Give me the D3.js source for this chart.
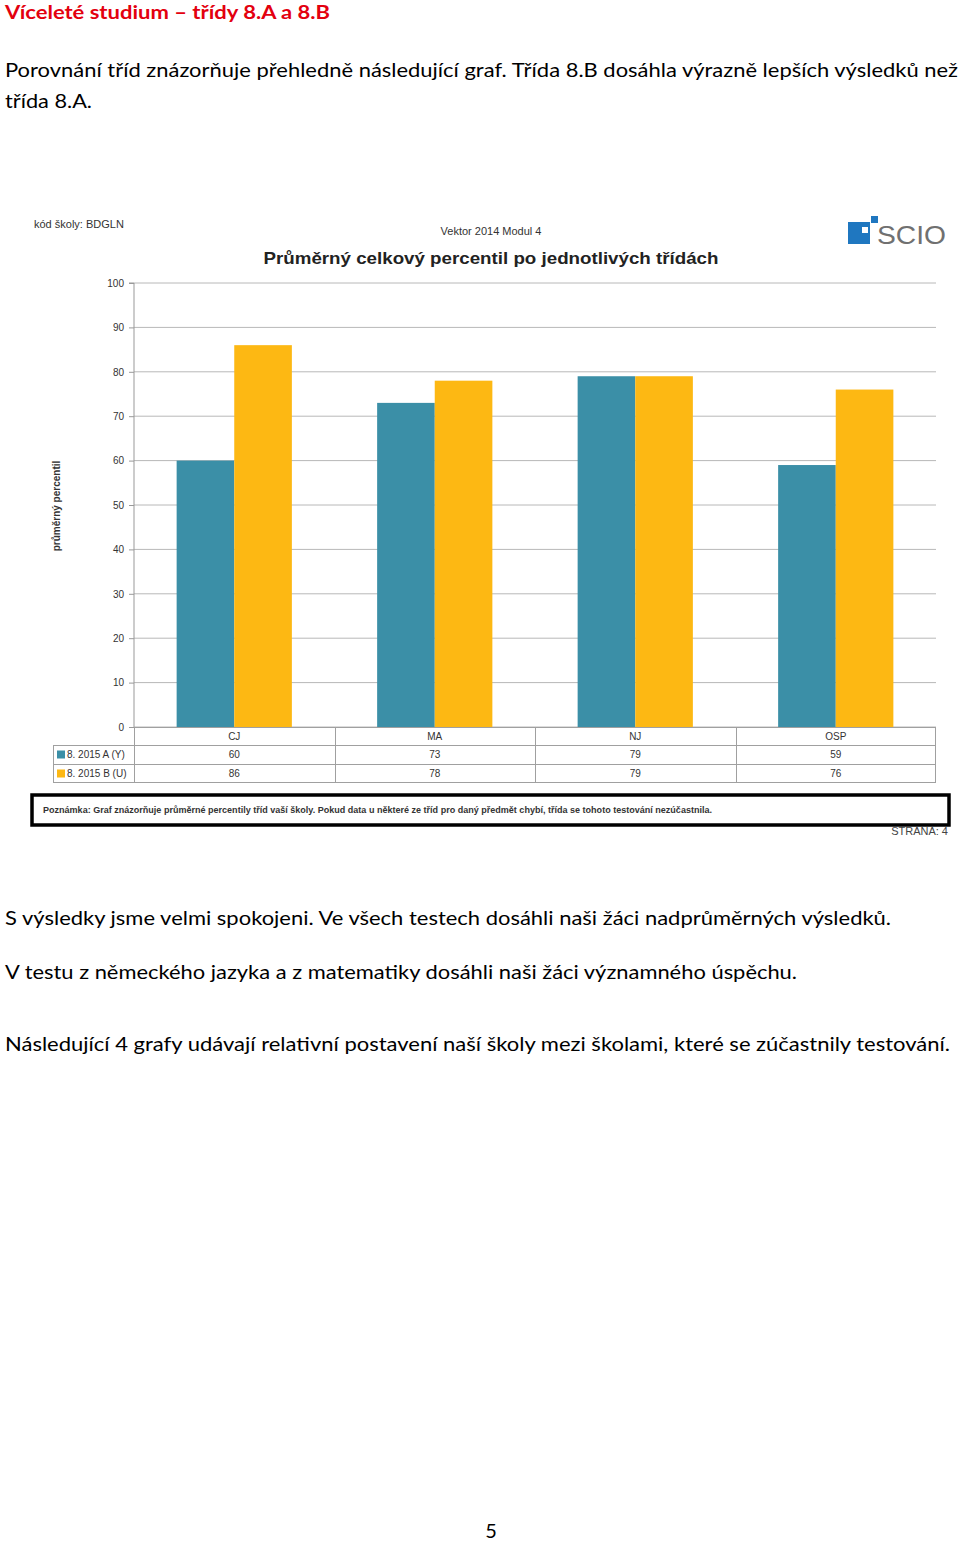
<!DOCTYPE html>
<html><head><meta charset="utf-8">
<script src="https://cdn.jsdelivr.net/npm/d3@7"></script>
<style>body{margin:0;background:#fff}svg{display:block}</style>
</head><body>
<script>
const categories = ["CJ","MA","NJ","OSP"];
const seriesNames = ["8. 2015 A (Y)","8. 2015 B (U)"];
const valuesA = [60,73,79,59];
const valuesB = [86,78,79,76];
const yTicks = [0,10,20,30,40,50,60,70,80,90,100];
const colors = ["#3b8fa7","#fdb813"];

const W=960,H=1541;
const svg=d3.select("body").append("svg").attr("width",W).attr("height",H);
const pageFont="Lato, 'Open Sans', sans-serif";
const chartFont="'Liberation Sans', Arial, sans-serif";

function txt(x,y,s,opt={}){
  const t=svg.append("text").attr("x",x).attr("y",y).text(s)
   .attr("font-family",opt.ff||pageFont).attr("font-size",opt.fs||20)
   .attr("fill",opt.fill||"#000").attr("font-weight",opt.fw||"normal")
   .attr("text-anchor",opt.anchor||"start");
  if(opt.len){t.attr("textLength",opt.len).attr("lengthAdjust","spacingAndGlyphs");}
  return t;
}
// page text
txt(5,19,"Víceleté studium – třídy 8.A a 8.B",{fill:"#e3000f",fw:"bold",fs:19,len:325});
txt(5,77,"Porovnání tříd znázorňuje přehledně následující graf. Třída 8.B dosáhla výrazně lepších výsledků než",{len:953});
txt(5,108,"třída 8.A.",{len:87});
txt(5,925,"S výsledky jsme velmi spokojeni. Ve všech testech dosáhli naši žáci nadprůměrných výsledků.",{len:886});
txt(5,979,"V testu z německého jazyka a z matematiky dosáhli naši žáci významného úspěchu.",{len:792});
txt(5,1051,"Následující 4 grafy udávají relativní postavení naší školy mezi školami, které se zúčastnily testování.",{len:945});
txt(491,1538,"5",{anchor:"middle"});

// chart header
txt(34,228,"kód školy: BDGLN",{ff:chartFont,fs:11,fill:"#333"});
txt(491,235,"Vektor 2014 Modul 4",{ff:chartFont,fs:11,fill:"#333",anchor:"middle"});
txt(491,264,"Průměrný celkový percentil po jednotlivých třídách",{ff:chartFont,fs:17,fw:"bold",fill:"#222",anchor:"middle",len:455});

// SCIO logo
svg.append("rect").attr("x",848).attr("y",222).attr("width",22).attr("height",22).attr("fill","#1f77c0");
svg.append("rect").attr("x",862).attr("y",227).attr("width",6).attr("height",6).attr("fill","#fff");
svg.append("rect").attr("x",871).attr("y",216).attr("width",7).attr("height",7).attr("fill","#1f77c0");
txt(877,244,"SCIO",{ff:chartFont,fs:26,fill:"#707070",len:69});

// scales
const x0=d3.scaleBand().domain(categories).range([134,936]).padding(0);
const x1=d3.scaleBand().domain([0,1]).range([0,x0.bandwidth()]).paddingInner(0).paddingOuter(0.74);
const y=d3.scaleLinear().domain([0,100]).range([727,283]);

// grid
svg.append("g").selectAll("line").data(yTicks).join("line")
 .attr("x1",134).attr("x2",936).attr("y1",d=>y(d)).attr("y2",d=>y(d))
 .attr("stroke","#b8b8b8").attr("stroke-width",1);
// y axis
const ax=svg.append("g").attr("transform","translate(134,0)")
 .call(d3.axisLeft(y).tickValues(yTicks).tickSize(5).tickPadding(5));
ax.select(".domain").attr("stroke","#999").attr("d","M-5,"+y(100)+"H0V"+y(0));
ax.selectAll(".tick line").attr("stroke","#999");
ax.selectAll("text").attr("font-family",chartFont).attr("font-size",10).attr("fill","#333");

svg.append("text").attr("transform","translate(60,506) rotate(-90)").attr("text-anchor","middle")
 .attr("font-family",chartFont).attr("font-size",10).attr("font-weight","bold").attr("fill","#333")
 .text("průměrný percentil");

// bars
const series=[valuesA,valuesB];
series.forEach((vals,si)=>{
  svg.append("g").selectAll("rect").data(categories).join("rect")
   .attr("x",(c)=>x0(c)+x1(si)).attr("width",x1.bandwidth())
   .attr("y",(c,i)=>y(vals[i])).attr("height",(c,i)=>y(0)-y(vals[i]))
   .attr("fill",colors[si]);
});

// data table
const rowY=[727,745,764,783];
const tg=svg.append("g").attr("stroke","#a0a0a0").attr("stroke-width",1).attr("fill","none");
tg.append("line").attr("x1",134).attr("x2",936).attr("y1",727.5).attr("y2",727.5);
[745.5,764.5,782.5].forEach(yy=>tg.append("line").attr("x1",53).attr("x2",936).attr("y1",yy).attr("y2",yy));
tg.append("line").attr("x1",53.5).attr("x2",53.5).attr("y1",745).attr("y2",783);
x0.domain().forEach(c=>tg.append("line").attr("x1",Math.round(x0(c))+0.5).attr("x2",Math.round(x0(c))+0.5).attr("y1",727).attr("y2",783));
tg.append("line").attr("x1",935.5).attr("x2",935.5).attr("y1",727).attr("y2",783);

const cx=c=>x0(c)+x0.bandwidth()/2;
svg.append("g").selectAll("text").data(categories).join("text")
 .attr("x",cx).attr("y",740).attr("text-anchor","middle").attr("font-family",chartFont)
 .attr("font-size",10).attr("fill","#333").text(d=>d);
series.forEach((vals,si)=>{
  svg.append("g").selectAll("text").data(categories).join("text")
   .attr("x",cx).attr("y",(rowY[si+1]+rowY[si+2])/2+3.5).attr("text-anchor","middle").attr("font-family",chartFont)
   .attr("font-size",10).attr("fill","#333").text((c,i)=>vals[i]);
  const ly=(rowY[si+1]+rowY[si+2])/2;
  svg.append("rect").attr("x",57).attr("y",ly-4).attr("width",8).attr("height",8).attr("fill",colors[si]);
  svg.append("text").attr("x",67).attr("y",ly+3.5).attr("font-family",chartFont).attr("font-size",10)
   .attr("fill","#333").text(seriesNames[si]);
});

// note box
svg.append("rect").attr("x",32).attr("y",795).attr("width",917).attr("height",30)
 .attr("fill","#fff").attr("stroke","#000").attr("stroke-width",3.5);
txt(43,813,"Poznámka: Graf znázorňuje průměrné percentily tříd vaší školy. Pokud data u některé ze tříd pro daný předmět chybí, třída se tohoto testování nezúčastnila.",{ff:chartFont,fs:8.5,fw:"bold",fill:"#333",len:669});
txt(948,835,"STRANA: 4",{ff:chartFont,fs:11,fill:"#444",anchor:"end"});
</script>
</body></html>
